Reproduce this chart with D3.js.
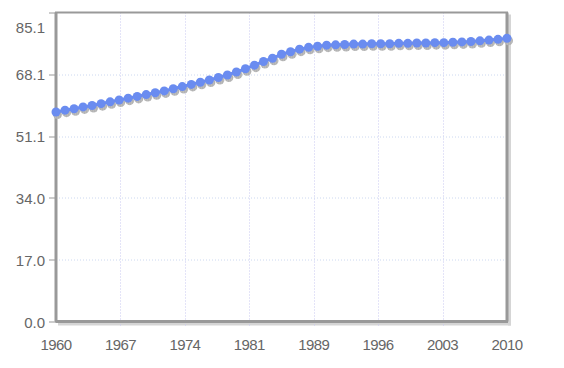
<!DOCTYPE html>
<html>
<head>
<meta charset="utf-8">
<script src="https://cdn.jsdelivr.net/npm/d3@7"></script>
<style>
  body { margin: 0; background: #fff; }
  svg { display: block; }
  .lbl { font-family: "Liberation Sans", Arial, sans-serif; font-size: 15px; fill: #666; }
  .xl { letter-spacing: -0.6px; }
</style>
</head>
<body>
<div id="chart"></div>
<script>
// --- DATOS ---
const years = d3.range(1960, 2011);
const values = [
  57.7, 58.2, 58.6, 59.1, 59.5, 60.0, 60.5, 61.0, 61.5, 62.0,
  62.5, 63.0, 63.5, 64.1, 64.7, 65.3, 65.9, 66.5, 67.2, 67.9,
  68.7, 69.6, 70.6, 71.6, 72.5, 73.6, 74.3, 75.0, 75.5, 75.8,
  76.1, 76.2, 76.3, 76.4, 76.4, 76.5, 76.5, 76.5, 76.6, 76.6,
  76.7, 76.7, 76.8, 76.8, 76.9, 77.0, 77.1, 77.3, 77.5, 77.7, 78.0
];
const xTickValues = [1960, 1967.14, 1974.29, 1981.43, 1988.57, 1995.71, 2002.86, 2010];
const xTickLabels = ["1960", "1967", "1974", "1981", "1989", "1996", "2003", "2010"];
const yTickValues = [0, 17.02, 34.04, 51.06, 68.08, 85.1];
const yTickLabels = ["0.0", "17.0", "34.0", "51.1", "68.1", "85.1"];

// --- CONFIGURACIÓN ---
const W = 564, H = 368;
const margin = { top: 12.5, left: 56, right: 57, bottom: 46.5 };
const width = W - margin.left - margin.right;
const height = H - margin.top - margin.bottom;

const svg = d3.select("#chart").append("svg").attr("width", W).attr("height", H);

const defs = svg.append("defs");
const pat = defs.append("pattern").attr("id", "checker")
  .attr("width", 2).attr("height", 2).attr("patternUnits", "userSpaceOnUse");
pat.append("rect").attr("width", 2).attr("height", 2).attr("fill", "#fff");
pat.append("rect").attr("width", 1).attr("height", 1).attr("fill", "#aaa");
pat.append("rect").attr("x", 1).attr("y", 1).attr("width", 1).attr("height", 1).attr("fill", "#aaa");

const dpat = defs.append("pattern").attr("id", "dotshadow")
  .attr("width", 2).attr("height", 2).attr("patternUnits", "userSpaceOnUse");
dpat.append("rect").attr("width", 2).attr("height", 2).attr("fill", "#ccc");
dpat.append("rect").attr("width", 1).attr("height", 1).attr("fill", "#999");
dpat.append("rect").attr("x", 1).attr("y", 1).attr("width", 1).attr("height", 1).attr("fill", "#aaa");

const g = svg.append("g").attr("transform", `translate(${margin.left},${margin.top})`);

// --- ESCALAS ---
const x = d3.scaleLinear().domain([1960, 2010]).range([0, width]);
const y = d3.scaleLinear().domain([0, 85.1]).range([height, 0]);

// sombra del marco
g.append("rect").attr("x", width + 1).attr("y", 2).attr("width", 3).attr("height", height + 2)
  .attr("fill", "url(#checker)");
g.append("rect").attr("x", 2).attr("y", height + 1).attr("width", width + 2).attr("height", 3)
  .attr("fill", "url(#checker)");

// rejilla
g.selectAll(".vgrid").data(xTickValues.slice(1, -1)).enter().append("line")
  .attr("x1", d => Math.round(x(d)) + 0.5).attr("x2", d => Math.round(x(d)) + 0.5)
  .attr("y1", 0).attr("y2", height + 5)
  .attr("stroke", "#c8c8f0").attr("stroke-width", 1).attr("stroke-dasharray", "1,2");
g.selectAll(".hgrid").data(yTickValues.slice(1, -1)).enter().append("line")
  .attr("y1", d => Math.round(y(d)) + 0.5).attr("y2", d => Math.round(y(d)) + 0.5)
  .attr("x1", 0).attr("x2", width)
  .attr("stroke", "#ccd8f0").attr("stroke-width", 1).attr("stroke-dasharray", "1,2");

// ticks eje Y
g.selectAll(".ytick").data(yTickValues).enter().append("line")
  .attr("x1", -7).attr("x2", 0)
  .attr("y1", d => Math.round(y(d)) + 0.5).attr("y2", d => Math.round(y(d)) + 0.5)
  .attr("stroke", "#999").attr("stroke-width", 1);

// marco
g.append("rect").attr("x", 0).attr("y", 0).attr("width", width).attr("height", height)
  .attr("fill", "none").attr("stroke", "#999").attr("stroke-width", 2);
g.append("line").attr("x1", 0).attr("x2", 0).attr("y1", 0).attr("y2", height)
  .attr("stroke", "#999").attr("stroke-width", 3);
g.append("line").attr("x1", 0).attr("x2", width + 1).attr("y1", height).attr("y2", height)
  .attr("stroke", "#999").attr("stroke-width", 3);
g.append("line").attr("x1", width).attr("x2", width).attr("y1", 0).attr("y2", height)
  .attr("stroke", "#999").attr("stroke-width", 3);

// etiquetas (la superior se baja para que quepa)
g.selectAll(".ylbl").data(yTickValues).enter().append("text")
  .attr("class", "lbl").attr("x", -11).attr("y", d => Math.max(y(d) + 6, 20.5))
  .attr("text-anchor", "end").text((d, i) => yTickLabels[i]);
g.selectAll(".xlbl").data(xTickValues).enter().append("text")
  .attr("class", "lbl xl").attr("x", d => x(d)).attr("y", height + 28)
  .attr("text-anchor", "middle").text((d, i) => xTickLabels[i]);

// serie
const data = years.map((yr, i) => ({ year: yr, value: values[i] }));
const plot = g.append("g");
plot.selectAll(".shadow").data(data).enter().append("circle")
  .attr("cx", d => x(d.year) + 1.5).attr("cy", d => y(d.value) + 2.5).attr("r", 4.5)
  .attr("fill", "url(#dotshadow)");
plot.append("path").datum(data)
  .attr("d", d3.line().x(d => x(d.year)).y(d => y(d.value)))
  .attr("fill", "none").attr("stroke", "#6a8cf0").attr("stroke-width", 3);
plot.selectAll(".dot").data(data).enter().append("circle")
  .attr("cx", d => x(d.year)).attr("cy", d => y(d.value)).attr("r", 4.5)
  .attr("fill", "#6a8cf0");
</script>
</body>
</html>
